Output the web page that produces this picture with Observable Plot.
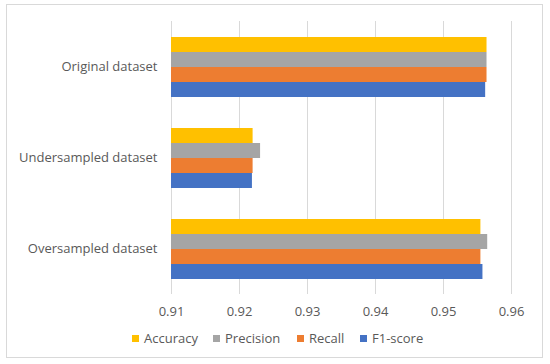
<!DOCTYPE html>
<html>
<head>
<meta charset="utf-8">
<script src="https://cdn.jsdelivr.net/npm/d3@7"></script>
<script src="https://cdn.jsdelivr.net/npm/@observablehq/plot@0.6"></script>
<style>
  body { margin: 0; background: #fff; font-family: "Open Sans", sans-serif; }
  #wrap { position: relative; width: 550px; height: 364px; }
  #frame { position: absolute; left: 6px; top: 4px; width: 535px; height: 352px; border: 1px solid #d9d9d9; pointer-events: none; }
  #legend { position: absolute; left: 0; top: 328px; width: 550px; height: 20px; font-size: 13px; color: #595959; }
  #legend span.item { position: absolute; top: 0; line-height: 20px; white-space: nowrap; }
  #legend span.sw { display: inline-block; width: 7px; height: 7px; margin-right: 5px; vertical-align: 1px; }
  svg { position: absolute; left: 0; top: 0; }
</style>
</head>
<body>
<div id="wrap">
  <div id="chart"></div>
  <div id="frame"></div>
  <div id="legend"></div>
</div>
<script>
const datasets = ["Original dataset", "Undersampled dataset", "Oversampled dataset"];
const metrics = ["Accuracy", "Precision", "Recall", "F1-score"];
const accuracy  = [0.9564, 0.9220, 0.9555];
const precision = [0.9564, 0.9231, 0.9565];
const recall    = [0.9564, 0.9220, 0.9555];
const f1score   = [0.9562, 0.9219, 0.9558];
const xTicks = [0.91, 0.92, 0.93, 0.94, 0.95, 0.96];
const colors = ["#FFC000", "#A5A5A5", "#ED7D31", "#4472C4"];

const series = [accuracy, precision, recall, f1score];
const rows = [];
datasets.forEach((d, i) => {
  metrics.forEach((m, j) => {
    rows.push({dataset: d, metric: m, value: series[j][i]});
  });
});
const base = xTicks[0];

const chart = Plot.plot({
  width: 550,
  height: 364,
  marginLeft: 171,
  marginRight: 39,
  marginTop: 20,
  marginBottom: 70,
  style: {fontFamily: "Open Sans, sans-serif", fontSize: "13px", color: "#595959", background: "transparent"},
  x: {domain: [xTicks[0], xTicks[xTicks.length - 1]], label: null},
  y: {domain: metrics, paddingInner: 0, paddingOuter: 0.92, axis: null},
  fy: {domain: datasets, padding: 0, label: null},
  color: {domain: metrics, range: colors},
  marks: [
    Plot.gridX(xTicks, {stroke: "#d9d9d9", strokeOpacity: 1, strokeWidth: 1}),
    Plot.barX(rows, {fy: "dataset", y: "metric", x1: () => base, x2: "value", fill: "metric", inset: 0}),
    Plot.axisX({ticks: xTicks, tickFormat: d3.format(".2f"), tickSize: 0, tickPadding: 12, fill: "#595959", label: null}),
    Plot.axisFy({anchor: "left", tickSize: 0, tickPadding: 14, fill: "#595959", label: null})
  ]
});
document.getElementById("chart").appendChild(chart);

const legend = document.getElementById("legend");
const lx = [132, 213, 297, 360];
metrics.forEach((m, i) => {
  const it = document.createElement("span");
  it.className = "item";
  it.style.left = lx[i] + "px";
  const sw = document.createElement("span");
  sw.className = "sw";
  sw.style.background = colors[i];
  it.appendChild(sw);
  it.appendChild(document.createTextNode(m));
  legend.appendChild(it);
});
</script>
</body>
</html>
